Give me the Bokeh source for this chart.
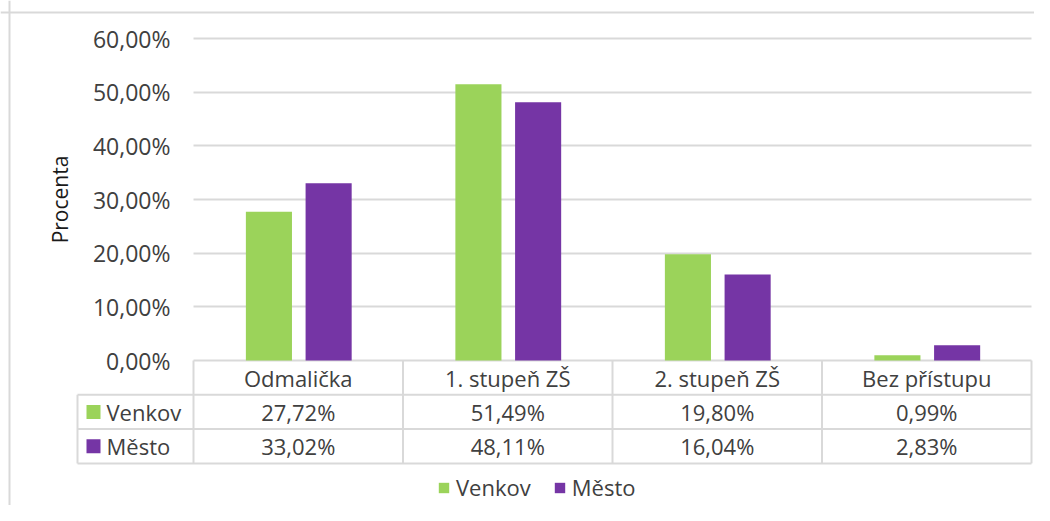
from bokeh.plotting import figure
from bokeh.models import (Range1d, LinearAxis, FixedTicker, Grid, Span, Legend, LegendItem,
                          ColumnDataSource, CustomJSTickFormatter)
from bokeh.core.properties import value
from bokeh.transform import dodge
from bokeh.embed import file_html
from bokeh.resources import INLINE

# ---- data ----
categories = ["Odmalička", "1. stupeň ZŠ", "2. stupeň ZŠ", "Bez přístupu"]
series_names = ["Venkov", "Město"]
venkov = [27.72, 51.49, 19.80, 0.99]
mesto = [33.02, 48.11, 16.04, 2.83]
y_ticks = [0, 10, 20, 30, 40, 50, 60]
y_title = "Procenta"

# ---- style ----
GREEN = "#9BD35A"
PURPLE = "#7535A5"
GRID = "#D9D9D9"
TEXT = "#404040"
FONT = "Open Sans"
FS = "22px"

W, H = 1034, 505
PX_X = 209.5      # pixels per category
PX_Y = 5.3667     # pixels per percent
x_start = -0.5 - 193 / PX_X
y_end = 60 + 38 / PX_Y
ROW = 34.3 / PX_Y                  # table row height in data units
LEFT = -0.5 - 116 / PX_X           # left edge of the row-label column
N = len(categories)

p = figure(width=W, height=H, output_backend="svg", toolbar_location=None, tools="",
           x_range=Range1d(x_start, x_start + W / PX_X),
           y_range=Range1d(y_end - H / PX_Y, y_end),
           x_axis_location=None, y_axis_location=None, min_border=0,
           outline_line_color=None, background_fill_color="white", border_fill_color="white")
p.center = []

# grid lines (only over the category area)
try:
    ygrid = Grid(dimension=1, ticker=FixedTicker(ticks=y_ticks), grid_line_color=GRID,
                 grid_line_width=2, cross_bounds=(-0.5, N - 0.5))
    p.add_layout(ygrid, "center")
except Exception:
    p.segment(x0=[-0.5] * len(y_ticks), x1=[N - 0.5] * len(y_ticks), y0=y_ticks, y1=y_ticks,
              line_color=GRID, line_width=2)

# y axis
yaxis = LinearAxis(fixed_location=-0.5, bounds=(min(y_ticks), max(y_ticks)),
                   ticker=FixedTicker(ticks=y_ticks),
                   formatter=CustomJSTickFormatter(code="return tick.toFixed(2).replace('.', ',') + '%';"),
                   axis_line_color=None, major_tick_line_color=None, minor_tick_line_color=None,
                   major_tick_out=0, major_tick_in=0, major_label_standoff=23,
                   major_label_text_font=FONT, major_label_text_font_size="23px",
                   major_label_text_color=TEXT,
                   axis_label=y_title, axis_label_text_font=FONT, axis_label_text_font_size="21px",
                   axis_label_text_font_style="normal", axis_label_text_color="#1a1a1a",
                   axis_label_standoff=16)
p.add_layout(yaxis, "left")

# category axis = table header row
xaxis = LinearAxis(fixed_location=0, ticker=FixedTicker(ticks=list(range(N))),
                   major_label_overrides={i: c for i, c in enumerate(categories)},
                   axis_line_color=None, major_tick_line_color=None, minor_tick_line_color=None,
                   major_tick_out=0, major_tick_in=0, major_label_standoff=2,
                   major_label_text_font=FONT, major_label_text_font_size=FS,
                   major_label_text_color=TEXT)
p.add_layout(xaxis, "below")

# bars
src = ColumnDataSource(dict(x=list(range(N)), venkov=venkov, mesto=mesto))
g = p.vbar(x=dodge("x", -0.14), top="venkov", bottom=0, width=0.22, source=src,
           fill_color=GREEN, line_color=None)
m = p.vbar(x=dodge("x", 0.145), top="mesto", bottom=0, width=0.22, source=src,
           fill_color=PURPLE, line_color=None)

# data table lines
hy = [-ROW, -2 * ROW, -3 * ROW]
p.segment(x0=[LEFT] * 3, x1=[N - 0.5] * 3, y0=hy, y1=hy, line_color=GRID, line_width=2)
vx = [i - 0.5 for i in range(N + 1)]
p.segment(x0=vx, x1=vx, y0=[0] * len(vx), y1=[-3 * ROW] * len(vx), line_color=GRID, line_width=2)
p.segment(x0=[LEFT], x1=[LEFT], y0=[-ROW], y1=[-3 * ROW], line_color=GRID, line_width=2)

# data table values
fmt = lambda v: f"{v:.2f}".replace(".", ",") + "%"
tx, ty, tt = [], [], []
for r, vals in enumerate([venkov, mesto]):
    for i, v in enumerate(vals):
        tx.append(i)
        ty.append(-ROW * (1.5 + r))
        tt.append(fmt(v))
p.text(x=tx, y=ty, text=tt, text_align="center", text_baseline="middle",
       text_font=value(FONT), text_font_size=FS, text_color=TEXT)

# row labels with legend keys
row_y = [-ROW * 1.5, -ROW * 2.5]
p.scatter(x=[LEFT + 16 / PX_X] * 2, y=row_y, marker="square", size=14,
          fill_color=[GREEN, PURPLE], line_color=None)
p.text(x=[LEFT + 29 / PX_X] * 2, y=row_y, text=series_names, text_align="left",
       text_baseline="middle", text_font=value(FONT), text_font_size=FS, text_color=TEXT)

# outer chart border (top and left)
p.add_layout(Span(location=60 + 26 / PX_Y, dimension="width", line_color=GRID, line_width=2))
p.add_layout(Span(location=x_start + 9 / PX_X, dimension="height", line_color=GRID, line_width=2))

# legend
legend = Legend(items=[LegendItem(label=series_names[0], renderers=[g]),
                       LegendItem(label=series_names[1], renderers=[m])],
                orientation="horizontal", location=(437, 3), glyph_width=13, glyph_height=13,
                label_standoff=6, spacing=22, padding=0, margin=0, border_line_color=None,
                background_fill_alpha=0, label_text_font=FONT, label_text_font_size=FS,
                label_text_color=TEXT)
p.add_layout(legend)

open("out.html", "w").write(file_html(p, INLINE))
